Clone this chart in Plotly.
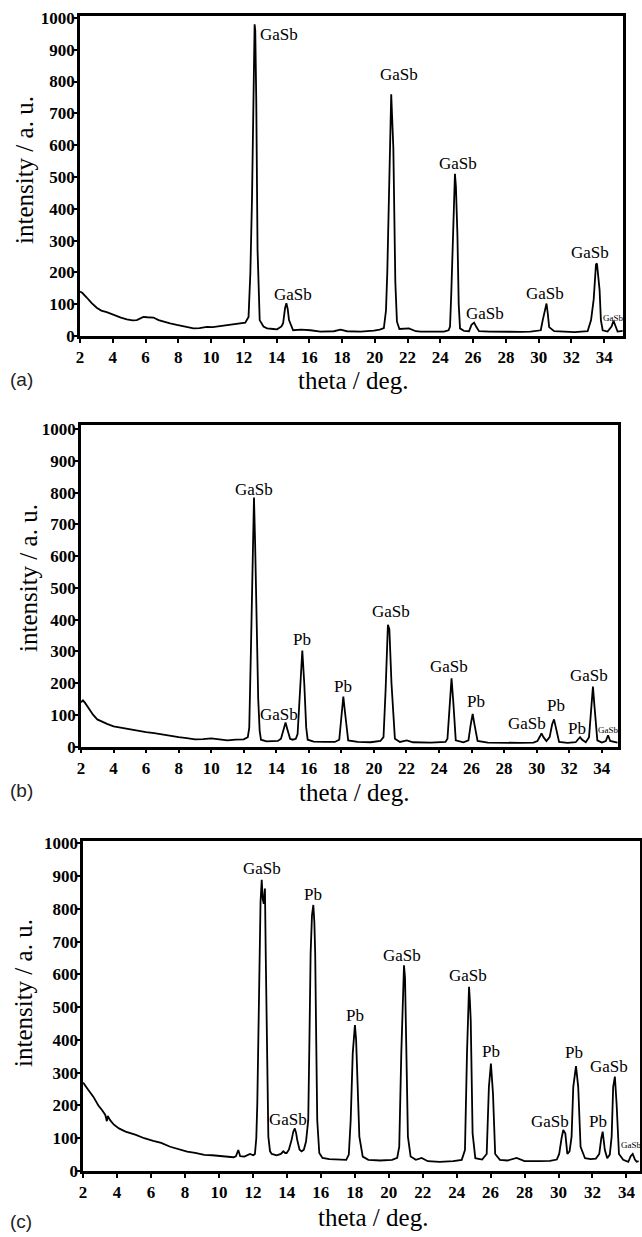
import plotly.graph_objects as go

# ---------------- data ----------------
# panel (a)
a_theta = [2.00, 2.15, 2.41, 2.70, 3.02, 3.30, 3.63, 3.90, 4.14, 4.50, 4.86, 5.20, 5.47, 5.70, 5.87,
           6.10, 6.48, 6.80, 7.09, 7.50, 7.91, 8.40, 8.93, 9.30, 9.75, 10.10, 10.56, 11.00, 11.38,
           11.80, 12.09, 12.29, 12.40, 12.50, 12.60, 12.66, 12.70, 12.76, 12.84, 12.97, 13.20, 13.42,
           13.80, 14.03, 14.30, 14.40, 14.52, 14.60, 14.68, 14.76, 15.01, 15.50, 16.07, 16.68, 17.50,
           17.90, 18.30, 19.13, 19.94, 20.30, 20.55, 20.68, 20.76, 20.88, 21.00, 21.13, 21.25, 21.35,
           21.50, 22.08, 22.50, 22.80, 23.50, 24.22, 24.50, 24.59, 24.67, 24.75, 24.89, 24.95, 25.04,
           25.12, 25.20, 25.45, 25.75, 25.90, 26.06, 26.20, 26.36, 27.00, 28.00, 28.91, 29.50, 30.13,
           30.25, 30.34, 30.48, 30.56, 30.64, 30.95, 31.50, 32.20, 32.99, 33.20, 33.36, 33.50, 33.56,
           33.64, 33.72, 33.80, 33.91, 34.21, 34.45, 34.57, 34.70, 34.82, 35.13]
a_int = [140, 135, 121, 104, 89, 80, 75, 69, 65, 58, 52, 49, 50, 56, 60,
         59, 58, 50, 45, 40, 35, 29, 24, 25, 29, 28, 31, 34, 38,
         40, 42, 60, 198, 430, 850, 980, 960, 745, 270, 50, 30, 24,
         22, 21, 30, 40, 88, 103, 85, 50, 18, 20, 18, 14, 15,
         20, 15, 14, 17, 20, 25, 80, 200, 535, 760, 590, 170, 45,
         22, 24, 15, 14, 13, 14, 18, 30, 140, 290, 510, 470, 320,
         100, 24, 16, 15, 35, 42, 28, 15, 14, 13, 13, 14, 18,
         50, 75, 102, 70, 28, 15, 14, 12, 15, 50, 115, 225, 228,
         190, 145, 50, 18, 14, 30, 48, 30, 14, 16]
a_labels = ["GaSb", "GaSb", "GaSb", "GaSb", "GaSb", "GaSb", "GaSb", "GaSb"]
a_label_x = [14.14, 15.03, 21.45, 25.09, 26.71, 30.38, 33.13, 34.60]
a_label_y = [947, 129, 821, 541, 72, 135, 264, 57]

# panel (b)
b_theta = [2.00, 2.12, 2.25, 2.50, 2.75, 3.00, 3.30, 3.60, 4.00, 4.50, 5.00, 5.50, 6.00, 6.50, 7.00,
           7.50, 8.00, 8.50, 9.00, 9.50, 10.00, 10.50, 11.00, 11.50, 12.00, 12.25, 12.34, 12.44,
           12.55, 12.63, 12.70, 12.78, 12.89, 12.98, 13.06, 13.40, 13.80, 14.10, 14.29, 14.45, 14.57,
           14.68, 14.85, 15.00, 15.20, 15.31, 15.45, 15.60, 15.72, 15.84, 15.93, 16.30, 17.00, 17.60,
           17.87, 18.00, 18.12, 18.22, 18.42, 19.00, 19.80, 20.40, 20.59, 20.72, 20.86, 20.95, 21.08,
           21.29, 21.60, 22.02, 22.40, 23.50, 24.40, 24.52, 24.65, 24.77, 24.88, 25.03, 25.50, 25.81,
           25.95, 26.07, 26.18, 26.37, 27.00, 28.00, 29.00, 29.80, 30.05, 30.20, 30.30, 30.42, 30.60,
           30.80, 30.95, 31.07, 31.18, 31.38, 31.90, 32.40, 32.58, 32.67, 32.80, 33.02, 33.22, 33.35,
           33.46, 33.55, 33.73, 34.00, 34.25, 34.39, 34.52, 34.97]
b_int = [140, 146, 138, 118, 100, 86, 78, 72, 64, 59, 54, 50, 46, 43, 38,
         34, 30, 27, 23, 24, 26, 23, 20, 22, 23, 30, 60, 300,
         650, 785, 640, 450, 150, 50, 22, 17, 17, 18, 25, 50, 76,
         55, 25, 22, 25, 40, 150, 303, 200, 60, 22, 16, 15, 15,
         22, 100, 158, 110, 20, 15, 14, 18, 30, 180, 384, 370, 200,
         25, 15, 20, 14, 13, 15, 25, 110, 215, 140, 20, 14, 20,
         70, 103, 70, 18, 13, 12, 12, 13, 18, 32, 42, 30, 18,
         30, 70, 86, 60, 15, 12, 14, 25, 30, 22, 14, 30, 110,
         189, 130, 20, 13, 18, 36, 18, 13]
b_labels = ["GaSb", "GaSb", "Pb", "Pb", "GaSb", "GaSb", "Pb", "GaSb", "Pb", "Pb", "GaSb", "GaSb"]
b_label_x = [12.62, 14.16, 15.60, 18.12, 21.07, 24.63, 26.29, 29.42, 31.20, 32.49, 33.23, 34.40]
b_label_y = [809, 100, 339, 191, 425, 254, 142, 74, 131, 58, 223, 53]

# panel (c)
c_theta = [2.00, 2.10, 2.30, 2.60, 2.90, 3.11, 3.30, 3.40, 3.45, 3.58, 3.80, 4.11, 4.50, 5.11, 5.60,
           6.13, 6.60, 7.13, 7.60, 8.13, 8.60, 9.14, 9.60, 10.14, 10.50, 10.85, 11.00, 11.14, 11.25,
           11.50, 11.83, 12.02, 12.12, 12.20, 12.26, 12.32, 12.38, 12.45, 12.52, 12.58, 12.64, 12.71,
           12.76, 12.81, 12.91, 13.01, 13.11, 13.40, 13.65, 13.79, 13.90, 13.99, 14.12, 14.28, 14.38,
           14.47, 14.55, 14.61, 14.75, 14.87, 15.00, 15.13, 15.26, 15.33, 15.40, 15.48, 15.56, 15.62,
           15.67, 15.73, 15.79, 15.91, 16.10, 16.50, 17.00, 17.50, 17.65, 17.76, 17.88, 18.01, 18.08,
           18.15, 18.27, 18.47, 18.80, 19.50, 20.20, 20.50, 20.62, 20.74, 20.83, 20.90, 20.96, 21.02,
           21.13, 21.29, 21.60, 21.94, 22.30, 23.00, 23.80, 24.30, 24.49, 24.61, 24.73, 24.78, 24.83,
           24.94, 25.10, 25.50, 25.77, 25.90, 26.02, 26.14, 26.27, 26.55, 27.00, 27.53, 28.00, 28.80,
           29.50, 29.90, 30.04, 30.18, 30.28, 30.40, 30.52, 30.65, 30.77, 30.87, 31.03, 31.16, 31.30,
           31.56, 31.90, 32.20, 32.40, 32.52, 32.60, 32.73, 32.87, 33.02, 33.13, 33.22, 33.32, 33.42,
           33.56, 33.81, 34.11, 34.25, 34.37, 34.50, 34.60, 34.72]
c_int = [270, 262, 248, 227, 200, 186, 172, 152, 168, 156, 142, 130, 120, 110, 100,
         92, 86, 74, 66, 59, 55, 49, 48, 46, 44, 42, 45, 64, 45,
         44, 52, 48, 52, 100, 206, 450, 664, 820, 889, 830, 815, 862,
         650, 400, 105, 60, 52, 48, 52, 60, 55, 55, 65, 95, 120,
         130, 115, 95, 65, 60, 65, 90, 155, 400, 664, 780, 812, 760,
         664, 400, 155, 55, 40, 36, 35, 34, 50, 155, 359, 445, 400,
         308, 105, 44, 34, 32, 34, 40, 74, 359, 560, 628, 590, 409,
         105, 44, 34, 40, 30, 28, 30, 34, 64, 359, 562, 520, 460,
         115, 39, 35, 52, 257, 328, 237, 52, 34, 32, 40, 30, 30,
         31, 35, 52, 100, 125, 115, 52, 60, 105, 257, 320, 257, 74,
         39, 36, 38, 52, 100, 120, 64, 39, 50, 105, 257, 288, 206,
         52, 34, 28, 45, 52, 35, 28, 30]
c_labels = ["GaSb", "GaSb", "Pb", "Pb", "GaSb", "GaSb", "Pb", "GaSb", "Pb", "Pb", "GaSb", "GaSb"]
c_label_x = [12.53, 14.07, 15.54, 18.01, 20.76, 24.67, 26.02, 29.50, 30.94, 32.32, 32.97, 34.27]
c_label_y = [924, 156, 845, 476, 659, 598, 366, 150, 362, 150, 320, 79]

x_ticks = list(range(2, 35, 2))
y_ticks = list(range(0, 1001, 100))
panel_tags = ["(a)", "(b)", "(c)"]
x_title = "theta / deg."
y_title = "intensity / a. u."

# ---------------- layout (pixel geometry) ----------------
W, H = 642, 1237
panels = [
    dict(theta=a_theta, inten=a_int, labels=a_labels, lx=a_label_x, ly=a_label_y,
         px=(80, 623), py=(16, 336), xr=[2, 35.15], yr=[0, 1006],
         ytitle=(25, 170), xtitle=(353, 381), tag=(8, 380)),
    dict(theta=b_theta, inten=b_int, labels=b_labels, lx=b_label_x, ly=b_label_y,
         px=(81, 618), py=(425, 746.7), xr=[2, 35.0], yr=[0, 1013],
         ytitle=(28, 578), xtitle=(354, 793), tag=(8, 790)),
    dict(theta=c_theta, inten=c_int, labels=c_labels, lx=c_label_x, ly=c_label_y,
         px=(83.1, 639.5), py=(840.7, 1171), xr=[2, 34.77], yr=[0, 1008],
         ytitle=(23, 993), xtitle=(373, 1217), tag=(8, 1221)),
]

SERIF = "Liberation Serif, Times New Roman, serif"
SANS = "Liberation Sans, Arial, sans-serif"

fig = go.Figure()
annotations = []
layout_axes = {}

for i, p in enumerate(panels):
    n = "" if i == 0 else str(i + 1)
    xa, ya = "x" + n, "y" + n
    fig.add_trace(go.Scatter(x=p["theta"], y=p["inten"], mode="lines",
                             line=dict(color="black", width=1.8),
                             xaxis=xa, yaxis=ya, showlegend=False, hoverinfo="skip"))
    common = dict(showline=True, mirror=True, linecolor="black", linewidth=2.5,
                  ticks="outside", ticklen=4, tickwidth=2, tickcolor="black",
                  showgrid=False, zeroline=False, automargin=False,
                  tickfont=dict(family=SERIF, size=17, color="black", weight="bold"))
    layout_axes["xaxis" + n] = dict(common, domain=[p["px"][0] / W, p["px"][1] / W],
                                    range=p["xr"], tickmode="array", tickvals=x_ticks,
                                    anchor=ya)
    layout_axes["yaxis" + n] = dict(common, domain=[1 - p["py"][1] / H, 1 - p["py"][0] / H],
                                    range=p["yr"], tickmode="array", tickvals=y_ticks,
                                    anchor=xa, ticklabelstandoff=-5)
    # peak labels
    for t, lx, ly in zip(p["labels"], p["lx"], p["ly"]):
        small = lx > 34.2
        annotations.append(dict(x=lx, y=ly, xref=xa, yref=ya, text=t, showarrow=False,
                                xanchor="center", yanchor="middle",
                                font=dict(family=SERIF, size=9 if small else 17, color="black")))
    # axis titles and tag
    annotations.append(dict(x=p["ytitle"][0] / W, y=1 - p["ytitle"][1] / H, xref="paper", yref="paper",
                            text=y_title, textangle=-90, showarrow=False,
                            xanchor="center", yanchor="middle",
                            font=dict(family=SERIF, size=25, color="black")))
    annotations.append(dict(x=p["xtitle"][0] / W, y=1 - p["xtitle"][1] / H, xref="paper", yref="paper",
                            text=x_title, showarrow=False, xanchor="center", yanchor="middle",
                            font=dict(family=SERIF, size=25, color="black")))
    annotations.append(dict(x=p["tag"][0] / W, y=1 - p["tag"][1] / H, xref="paper", yref="paper",
                            text=panel_tags[i], showarrow=False, xanchor="left", yanchor="middle",
                            font=dict(family=SANS, size=19, color="#222222")))

fig.update_layout(template="none", width=W, height=H, margin=dict(l=0, r=0, t=0, b=0, pad=0),
                  paper_bgcolor="white", plot_bgcolor="white",
                  annotations=annotations, **layout_axes)

fig.write_html("out.html", config={"displayModeBar": False},
               post_script="document.body.style.margin='0';document.body.style.padding='0';"
                           "document.documentElement.style.overflow='hidden';")
